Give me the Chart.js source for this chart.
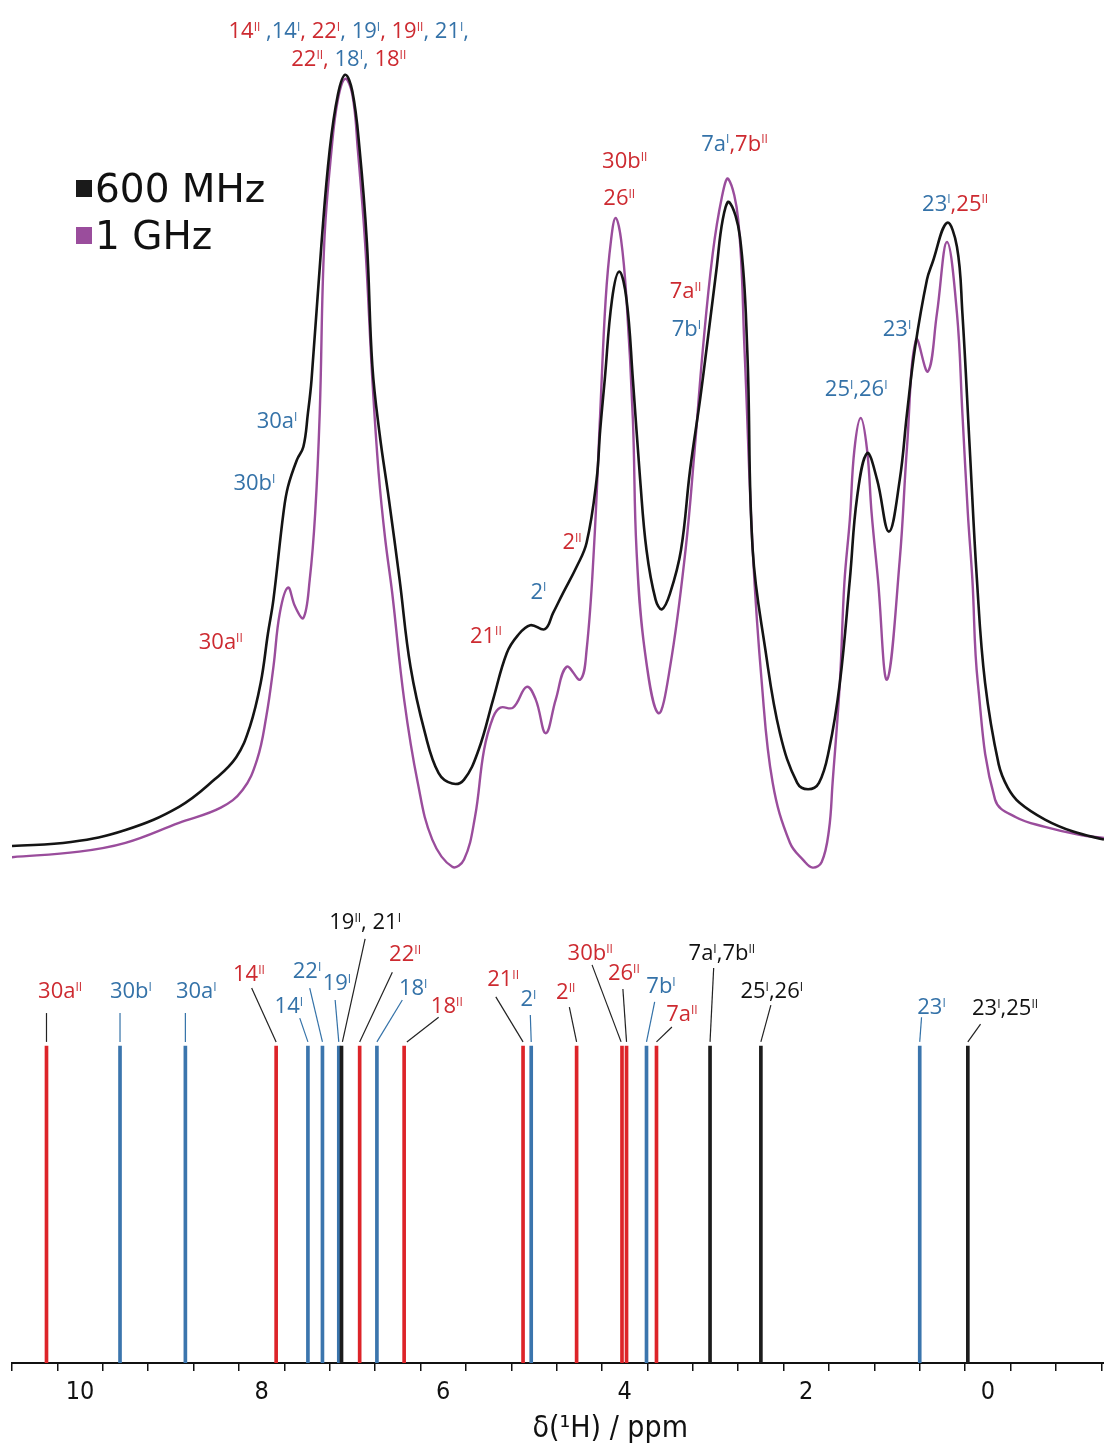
<!DOCTYPE html>
<html>
<head>
<meta charset="utf-8">
<title>1H NMR, 600 MHz vs 1 GHz</title>
<script src="https://cdn.jsdelivr.net/npm/chart.js@4.4.1/dist/chart.umd.min.js"></script>
<style>
  html, body { margin: 0; padding: 0; background: #fff; }
  #wrap { width: 1104px; height: 1446px; position: relative; }
</style>
</head>
<body>
<div id="wrap"><canvas id="nmr"></canvas></div>
<script>
const shift600 = [10.75, 10.10, 9.50, 8.91, 8.52, 8.28, 8.13, 8.01, 7.93, 7.87, 7.76, 7.71, 7.61, 7.54, 7.49,
  7.45, 7.34, 7.25, 7.16, 7.08, 7.00, 6.92, 6.84, 6.78, 6.70, 6.60, 6.48, 6.36, 6.20, 6.05, 5.90, 5.77, 5.61,
  5.45, 5.30, 5.18, 5.04, 4.88, 4.79, 4.68, 4.53, 4.42, 4.31, 4.27, 4.22, 4.14, 4.06, 3.98, 3.91, 3.83, 3.76,
  3.66, 3.59, 3.50, 3.38, 3.28, 3.17, 3.10, 2.99, 2.92, 2.85, 2.73, 2.65, 2.59, 2.45, 2.29, 2.10, 1.98, 1.86,
  1.75, 1.63, 1.52, 1.44, 1.33, 1.22, 1.09, 0.97, 0.89, 0.80, 0.67, 0.61, 0.45, 0.34, 0.28, 0.20, 0.12, 0.03,
  -0.12, -0.22, -0.35, -0.63, -0.94, -1.28];
const int600 = [3.0, 3.5, 5.0, 7.9, 11.3, 14.1, 17.9, 23.4, 29.6, 33.8, 44.6, 47.9, 51.3, 52.9, 57.1,
  61.3, 78.4, 90.0, 96.9, 99.4, 97.3, 90.0, 78.4, 63.0, 54.5, 46.5, 36.3, 25.4, 17.1, 12.1, 10.8, 11.3, 15.0,
  21.3, 27.1, 29.3, 30.6, 30.1, 32.1, 34.6, 37.9, 40.9, 48.8, 55.0, 61.3, 71.3, 74.8, 71.3, 61.3, 48.8, 40.0,
  33.8, 32.6, 34.6, 40.0, 50.0, 58.8, 65.0, 75.0, 81.3, 83.5, 79.1, 65.0, 40.0, 27.5, 17.1, 10.9, 10.1, 10.9,
  15.0, 23.4, 36.3, 46.6, 52.1, 48.8, 42.3, 48.8, 57.1, 65.4, 73.8, 75.9, 80.9, 77.9, 69.6, 52.9, 36.3, 23.4,
  13.2, 10.3, 8.4, 6.3, 4.8, 3.8];

const shift1G = [10.75, 10.01, 9.50, 8.91, 8.45, 8.21, 8.05, 7.95, 7.87, 7.80, 7.71, 7.63, 7.54, 7.47, 7.41,
  7.36, 7.31, 7.23, 7.16, 7.08, 7.00, 6.94, 6.86, 6.78, 6.71, 6.64, 6.56, 6.43, 6.28, 6.12, 5.90, 5.77, 5.65,
  5.55, 5.45, 5.37, 5.23, 5.08, 4.98, 4.87, 4.76, 4.64, 4.49, 4.42, 4.34, 4.27, 4.21, 4.15, 4.10, 4.04, 3.98,
  3.91, 3.87, 3.78, 3.63, 3.50, 3.33, 3.23, 3.14, 3.03, 2.93, 2.86, 2.75, 2.68, 2.59, 2.49, 2.37, 2.18, 2.03,
  1.93, 1.83, 1.75, 1.71, 1.63, 1.58, 1.52, 1.47, 1.40, 1.33, 1.28, 1.21, 1.11, 0.97, 0.89, 0.79, 0.66, 0.56,
  0.45, 0.34, 0.28, 0.22, 0.17, 0.11, -0.08, -0.31, -0.63, -1.01, -1.28];
const int1G = [1.6, 2.3, 3.4, 5.9, 7.8, 10.0, 13.8, 19.1, 25.4, 32.1, 35.3, 32.9, 31.5, 36.3, 44.6,
  57.1, 78.4, 90.0, 96.3, 98.9, 96.9, 90.0, 78.4, 61.3, 49.5, 41.5, 34.5, 21.3, 10.9, 3.8, 0.4, 1.3, 6.6,
  15.0, 19.1, 20.3, 20.3, 22.9, 21.3, 17.1, 21.3, 25.4, 23.8, 27.5, 40.0, 57.1, 71.3, 78.8, 81.5, 78.8, 71.3,
  56.3, 40.0, 27.5, 19.6, 25.4, 40.0, 52.5, 65.0, 77.1, 84.1, 86.4, 81.3, 65.0, 40.0, 23.4, 10.9, 3.4, 1.2,
  0.3, 1.0, 5.0, 10.9, 23.4, 35.9, 43.8, 52.5, 56.5, 52.5, 44.6, 36.3, 23.8, 38.8, 52.9, 66.3, 62.3, 69.6,
  78.5, 69.6, 57.1, 44.6, 36.3, 23.4, 8.8, 6.6, 5.4, 4.4, 4.0];

// calculated shifts (stick spectrum) and the conformer they belong to
const stickShift = [10.37, 9.56, 8.84, 7.84, 7.49, 7.33, 7.15, 7.12, 6.92, 6.73, 6.43, 5.12, 5.03,
  4.53, 4.03, 3.98, 3.76, 3.65, 3.06, 2.50, 0.75, 0.22];
const stickForm = ['II', 'I', 'I', 'II', 'I', 'I', 'I', 'both', 'II', 'I', 'II', 'II', 'I',
  'II', 'II', 'II', 'I', 'II', 'both', 'both', 'I', 'both'];
const stickHeight = stickShift.map(() => 100);

const xTicks = [10, 8, 6, 4, 2, 0];

// --- styling / layout ---
const formColor = { I: '#3b75ad', II: '#dd2429', both: '#1c1c1c' };
const txtColor = { R: '#cd2a30', B: '#3472a8', K: '#111111' };
const LABEL_FONT = '"Open Sans", "Noto Sans", sans-serif';
const AXIS_FONT = '"DejaVu Sans Condensed", "DejaVu Sans", sans-serif';

// annotations on the spectra: [ppm, intensity, segments]  ({..} = superscript)
const specLabels = [
  [7.04, 105.0, [['14{II}', 'R'], [' ,14{I}', 'B'], [', 22{I}', 'R'], [', 19{I}', 'B'], [', 19{II}', 'R'], [', 21{I},', 'B']]],
  [7.04, 101.5, [['22{II},', 'R'], [' 18{I},', 'B'], [' 18{II}', 'R']]],
  [4.00, 88.75, [['30b{II}', 'R']]],
  [4.06, 84.1, [['26{II}', 'R']]],
  [2.79, 90.9, [['7a{I}', 'B'], [',7b{II}', 'R']]],
  [3.33, 72.5, [['7a{II}', 'R']]],
  [3.32, 67.75, [['7b{I}', 'B']]],
  [0.36, 83.4, [['23{I}', 'B'], [',25{II}', 'R']]],
  [1.00, 67.75, [['23{I}', 'B']]],
  [1.45, 60.25, [['25{I},26{I}', 'B']]],
  [7.83, 56.25, [['30a{I}', 'B']]],
  [8.08, 48.5, [['30b{I}', 'B']]],
  [8.45, 28.6, [['30a{II}', 'R']]],
  [5.53, 29.4, [['21{II}', 'R']]],
  [4.95, 34.9, [['2{I}', 'B']]],
  [4.58, 41.1, [['2{II}', 'R']]]
];

// stick labels: [ppm, height, text, colour, leader x1, y1, x2, y2]
const stickLabels = [
  [10.22, 117.7, '30a{II}', 'R', 10.37, 110.4, 10.37, 101.3],
  [9.44, 117.7, '30b{I}', 'B', 9.56, 110.4, 9.56, 101.3],
  [8.72, 117.7, '30a{I}', 'B', 8.84, 110.4, 8.84, 101.3],
  [8.14, 123.0, '14{II}', 'R', 8.11, 118.3, 7.84, 101.3],
  [7.70, 112.9, '14{I}', 'B', 7.58, 108.8, 7.49, 101.3],
  [7.50, 124.0, '22{I}', 'B', 7.47, 118.3, 7.33, 101.3],
  [7.17, 120.2, '19{I}', 'B', 7.19, 114.5, 7.15, 101.3],
  [6.86, 139.4, '19{II}, 21{I}', 'K', 6.86, 133.8, 7.11, 101.3],
  [6.42, 129.3, '22{II}', 'R', 6.56, 123.3, 6.92, 101.3],
  [6.33, 118.6, '18{I}', 'B', 6.45, 114.5, 6.73, 101.3],
  [5.96, 112.9, '18{II}', 'R', 6.05, 109.1, 6.40, 101.3],
  [5.34, 121.5, '21{II}', 'R', 5.42, 115.5, 5.12, 101.3],
  [5.06, 115.1, '2{I}', 'B', 5.04, 109.8, 5.03, 101.3],
  [4.65, 117.4, '2{II}', 'R', 4.61, 112.3, 4.53, 101.3],
  [4.38, 129.7, '30b{II}', 'R', 4.36, 125.6, 4.04, 101.3],
  [4.01, 123.3, '26{II}', 'R', 4.02, 118.0, 3.98, 101.3],
  [3.60, 119.2, '7b{I}', 'B', 3.67, 113.9, 3.76, 101.3],
  [3.37, 110.4, '7a{II}', 'R', 3.48, 106.0, 3.65, 101.3],
  [2.93, 129.7, '7a{I},7b{II}', 'K', 3.02, 124.6, 3.06, 101.3],
  [2.38, 117.7, '25{I},26{I}', 'K', 2.39, 112.9, 2.50, 101.3],
  [0.62, 112.6, '23{I}', 'B', 0.73, 109.1, 0.75, 101.3],
  [-0.19, 112.3, '23{I},25{II}', 'K', 0.08, 106.9, 0.22, 101.3]
];

function drawRich(ctx, segs, cx, cy, size) {
  const base = size + 'px ' + LABEL_FONT;
  const sup = Math.round(size * 0.55) + 'px ' + LABEL_FONT;
  const runs = [];
  segs.forEach(([txt, col]) => {
    txt.replace(/\{([^}]*)\}|[^{]+/g, (m, s) => {
      runs.push({ t: s !== undefined ? s : m, sup: s !== undefined, col });
      return m;
    });
  });
  let w = 0;
  runs.forEach(r => { ctx.font = r.sup ? sup : base; r.w = ctx.measureText(r.t).width; w += r.w; });
  let x = cx - w / 2;
  const by = cy + size * 0.36;
  ctx.textAlign = 'left';
  ctx.textBaseline = 'alphabetic';
  runs.forEach(r => {
    ctx.font = r.sup ? sup : base;
    ctx.fillStyle = txtColor[r.col];
    ctx.fillText(r.t, x, r.sup ? by - size * 0.33 : by);
    x += r.w;
  });
}

const annotations = {
  id: 'annotations',
  afterDatasetsDraw(chart) {
    const ctx = chart.ctx;
    const xs = chart.scales.x, ys = chart.scales.y, y2 = chart.scales.y2;
    ctx.save();
    specLabels.forEach(([p, v, segs]) => {
      drawRich(ctx, segs, xs.getPixelForValue(p), ys.getPixelForValue(v), 22);
    });
    stickLabels.forEach(([p, v, txt, col, x1, v1, x2, v2]) => {
      drawRich(ctx, [[txt, col]], xs.getPixelForValue(p), y2.getPixelForValue(v), 22);
      ctx.beginPath();
      ctx.strokeStyle = col === 'B' ? txtColor.B : '#222';
      ctx.lineWidth = 1.2;
      ctx.moveTo(xs.getPixelForValue(x1), y2.getPixelForValue(v1));
      ctx.lineTo(xs.getPixelForValue(x2), y2.getPixelForValue(v2));
      ctx.stroke();
    });
    // legend
    const items = [['600 MHz', '#1a1a1a'], ['1 GHz', '#9a4d9c']];
    ctx.font = '39px "DejaVu Sans", Verdana, sans-serif';
    ctx.textBaseline = 'alphabetic';
    items.forEach(([t, c], i) => {
      const cy = 188 + i * 47;
      ctx.fillStyle = c;
      ctx.fillRect(76, cy - 8, 16, 17);
      ctx.fillStyle = '#111';
      ctx.fillText(t, 95, cy + 14);
    });
    // axis title, placed right of centre as in the figure
    ctx.font = '30px ' + AXIS_FONT;
    ctx.fillStyle = '#111';
    ctx.textAlign = 'center';
    ctx.textBaseline = 'middle';
    ctx.fillText('δ(¹H) / ppm', xs.getPixelForValue(4.16), xs.bottom - 17);
    ctx.restore();
  }
};

new Chart(document.getElementById('nmr'), {
  type: 'line',
  data: {
    datasets: [
      {
        label: '600 MHz',
        data: shift600.map((p, i) => ({ x: p, y: int600[i] })),
        borderColor: '#141414',
        borderWidth: 2.6,
        pointRadius: 0,
        tension: 0.4,
        yAxisID: 'y'
      },
      {
        label: '1 GHz',
        data: shift1G.map((p, i) => ({ x: p, y: int1G[i] })),
        borderColor: '#9a4d9c',
        borderWidth: 2.4,
        pointRadius: 0,
        tension: 0.4,
        yAxisID: 'y'
      },
      {
        type: 'bar',
        label: 'calculated',
        data: stickShift.map((p, i) => ({ x: p, y: stickHeight[i] })),
        backgroundColor: stickForm.map(f => formColor[f]),
        borderWidth: 0,
        barThickness: 3,
        grouped: false,
        yAxisID: 'y2'
      }
    ]
  },
  options: {
    responsive: true,
    maintainAspectRatio: false,
    animation: false,
    devicePixelRatio: 1,
    layout: { padding: { left: 12, right: 0, top: 0, bottom: 0 } },
    plugins: { legend: { display: false }, tooltip: { enabled: false } },
    scales: {
      x: {
        type: 'linear',
        reverse: true,
        min: -1.28,
        max: 10.75,
        offset: false,
        afterFit: s => { s.height = 83; },
        border: { display: true, color: '#111', width: 2 },
        grid: { drawOnChartArea: false, drawTicks: true, tickLength: 8, color: '#111', lineWidth: 1.5 },
        ticks: {
          stepSize: 0.5,
          includeBounds: false,
          autoSkip: false,
          maxRotation: 0,
          padding: 6,
          color: '#111',
          font: { family: AXIS_FONT, size: 25 },
          callback: v => (xTicks.includes(v) ? String(v) : '')
        },
        title: { display: false }
      },
      y: { type: 'linear', display: false, min: -61.625, max: 108.75 },
      y2: { type: 'linear', display: false, min: 0, max: 430 }
    }
  },
  plugins: [annotations]
});
</script>
</body>
</html>
